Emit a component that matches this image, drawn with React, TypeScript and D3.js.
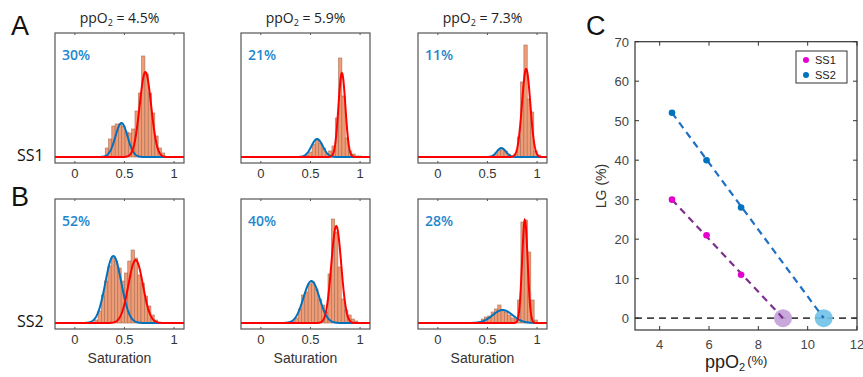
import React, { useEffect, useRef } from 'react';
import * as d3 from 'd3';

// histogram panels (rows: SS1, SS2; columns: ppO2 levels)
const ppO2Titles = ['4.5%', '5.9%', '7.3%'];
const rowLabels = ['SS1', 'SS2'];
const ss1Pct = ['30%', '21%', '11%'];
const ss2Pct = ['52%', '40%', '28%'];
const satTicks = [0, 0.5, 1];

const BIN = 1 / 30;
// first bin edge + bar heights for each histogram
const ss1Start = [0.306, 0.45, 0.567];
const ss1Counts = [
  [9, 18, 31, 33, 33, 31, 25, 24, 28, 46, 64, 101, 83, 64, 44, 21, 9, 4],
  [2, 5, 13, 17, 14, 9, 3, 6, 11, 39, 99, 61, 19, 6, 3, 1, 1],
  [3, 7, 8, 6, 3, 1, 3, 20, 75, 112, 58, 45, 6, 2],
];
const ss2Start = [0.2, 0.31, 0.437];
const ss2Counts = [
  [3, 12, 28, 42, 57, 65, 62, 55, 42, 50, 62, 73, 65, 48, 40, 27, 17, 8, 3],
  [2, 5, 14, 28, 31, 39, 41, 34, 24, 18, 11, 49, 104, 91, 56, 24, 13, 8, 4, 2],
  [4, 6, 7, 11, 14, 18, 13, 11, 8, 5, 4, 23, 101, 103, 71, 23, 3],
];
// gaussian fits: [mean, sd, peak]
const ss1Blue = [[0.47, 0.061, 34], [0.567, 0.057, 18], [0.64, 0.045, 9]];
const ss1Red = [[0.711, 0.058, 85], [0.817, 0.035, 84], [0.89, 0.042, 88]];
const ss2Blue = [[0.388, 0.08, 67], [0.51, 0.08, 42], [0.653, 0.1, 13]];
const ss2Red = [[0.613, 0.073, 63], [0.76, 0.05, 97], [0.877, 0.028, 103]];

// panel C
const ppO2 = [4.5, 5.9, 7.3];
const ss1LG = [30, 21, 11];
const ss2LG = [52, 40, 28];
const ss1Zero = 9.0;
const ss2Zero = 10.65;
const cXTicks = [4, 6, 8, 10, 12];
const cYTicks = [0, 10, 20, 30, 40, 50, 60, 70];

const App = () => {
  const ref = useRef<SVGSVGElement>(null);

  useEffect(() => {
    const svg = d3.select(ref.current);
    svg.selectAll('*').remove();

    const plotW = 129;
    const plotH = 130;
    const lefts = [55, 241, 418];
    const tops = [33, 199];
    const x = d3.scaleLinear().domain([-0.2, 1.1]).range([0, plotW]);
    const y = d3.scaleLinear().domain([-6, 124]).range([plotH, 0]);
    const gauss = (p: number[]) =>
      d3.range(-0.2, 1.1001, 0.004).map(v => [v, p[2] * Math.exp(-((v - p[0]) ** 2) / (2 * p[1] * p[1]))]);
    const line = d3.line<number[]>().x(d => x(d[0])).y(d => y(d[1]));

    const defs = svg.append('defs');
    defs.append('clipPath').attr('id', 'hclip')
      .append('rect').attr('width', plotW).attr('height', plotH);

    const rows = [
      { start: ss1Start, counts: ss1Counts, blue: ss1Blue, red: ss1Red, pct: ss1Pct },
      { start: ss2Start, counts: ss2Counts, blue: ss2Blue, red: ss2Red, pct: ss2Pct },
    ];

    rows.forEach((row, r) => {
      ppO2Titles.forEach((_, c) => {
        const g = svg.append('g').attr('transform', `translate(${lefts[c]},${tops[r]})`);
        const inner = g.append('g').attr('clip-path', 'url(#hclip)');

        inner.selectAll('rect.bar')
          .data(row.counts[c])
          .enter().append('rect')
          .attr('class', 'bar')
          .attr('x', (d, i) => x(row.start[c] + i * BIN))
          .attr('width', x(BIN) - x(0))
          .attr('y', d => y(d))
          .attr('height', d => y(0) - y(d))
          .attr('fill', '#EF9B74')
          .attr('stroke', '#A8705A')
          .attr('stroke-width', 0.6);

        inner.append('path').datum(gauss(row.blue[c]))
          .attr('d', line).attr('fill', 'none')
          .attr('stroke', '#0072BD').attr('stroke-width', 2);
        inner.append('path').datum(gauss(row.red[c]))
          .attr('d', line).attr('fill', 'none')
          .attr('stroke', '#FF0000').attr('stroke-width', 2);

        // box and ticks
        g.append('rect').attr('width', plotW).attr('height', plotH)
          .attr('fill', 'none').attr('stroke', '#555').attr('stroke-width', 1.2);
        satTicks.forEach(t => {
          g.append('line').attr('x1', x(t)).attr('x2', x(t)).attr('y1', plotH).attr('y2', plotH - 2)
            .attr('stroke', '#555');
          g.append('line').attr('x1', x(t)).attr('x2', x(t)).attr('y1', 0).attr('y2', 2)
            .attr('stroke', '#555');
          g.append('text').attr('x', x(t)).attr('y', plotH + 15)
            .attr('text-anchor', 'middle').attr('font-family', 'Liberation Sans, Arial')
            .attr('font-size', 13).attr('fill', '#333').text(t);
        });

        g.append('text').attr('x', 7).attr('y', 27)
          .attr('font-family', 'Open Sans').attr('font-weight', 600)
          .attr('font-size', 14).attr('fill', '#1F86CC').text(row.pct[c]);

        if (r === 0) {
          const tt = g.append('text').attr('x', plotW / 2).attr('y', -10)
            .attr('text-anchor', 'middle').attr('font-family', 'Open Sans')
            .attr('font-size', 14).attr('fill', '#222');
          tt.append('tspan').text('ppO');
          tt.append('tspan').attr('font-size', 9).attr('dy', 3).text('2');
          tt.append('tspan').attr('dy', -3).text(` = ${ppO2Titles[c]}`);
        } else {
          g.append('text').attr('x', plotW / 2).attr('y', plotH + 34)
            .attr('text-anchor', 'middle').attr('font-family', 'Liberation Sans, Arial')
            .attr('font-size', 14).attr('fill', '#333').text('Saturation');
        }
      });
      svg.append('text').attr('x', 17).attr('y', tops[r] + 128)
        .attr('font-family', 'Open Sans').attr('font-size', 16).attr('fill', '#111')
        .text(rowLabels[r]);
    });

    // panel letters
    [['A', 11, 35], ['B', 11, 206], ['C', 586, 35]].forEach(([t, px, py]) => {
      svg.append('text').attr('x', px).attr('y', py)
        .attr('font-family', 'Liberation Sans, Arial').attr('font-size', 27).attr('fill', '#111')
        .text(t as string);
    });

    // panel C
    const cx = d3.scaleLinear().domain([3, 12]).range([635, 857]);
    const cy = d3.scaleLinear().domain([-3, 70]).range([330, 41.7]);
    const cg = svg.append('g');

    cg.append('line').attr('x1', cx(3)).attr('x2', cx(12)).attr('y1', cy(0)).attr('y2', cy(0))
      .attr('stroke', '#444').attr('stroke-width', 1.6).attr('stroke-dasharray', '7,5');

    cg.append('circle').attr('cx', cx(ss1Zero)).attr('cy', cy(0)).attr('r', 9)
      .attr('fill', '#C3A0D8').attr('opacity', 0.9);
    cg.append('circle').attr('cx', cx(ss2Zero)).attr('cy', cy(0)).attr('r', 9)
      .attr('fill', '#6EC1E8').attr('opacity', 0.9);

    cg.append('line').attr('x1', cx(ppO2[0])).attr('y1', cy(ss1LG[0]))
      .attr('x2', cx(ss1Zero)).attr('y2', cy(0))
      .attr('stroke', '#7E2F8E').attr('stroke-width', 2.2).attr('stroke-dasharray', '7,5');
    cg.append('line').attr('x1', cx(ppO2[0])).attr('y1', cy(ss2LG[0]))
      .attr('x2', cx(ss2Zero)).attr('y2', cy(0))
      .attr('stroke', '#1F6FC5').attr('stroke-width', 2.2).attr('stroke-dasharray', '7,5');

    cg.selectAll('circle.s1').data(ss1LG).enter().append('circle')
      .attr('cx', (d, i) => cx(ppO2[i])).attr('cy', d => cy(d)).attr('r', 3.3).attr('fill', '#E600CC');
    cg.selectAll('circle.s2').data(ss2LG).enter().append('circle')
      .attr('cx', (d, i) => cx(ppO2[i])).attr('cy', d => cy(d)).attr('r', 3.3).attr('fill', '#0072BD');

    cg.append('rect').attr('x', cx(3)).attr('y', cy(70))
      .attr('width', cx(12) - cx(3)).attr('height', cy(-3) - cy(70))
      .attr('fill', 'none').attr('stroke', '#333').attr('stroke-width', 1.2);

    cXTicks.forEach(t => {
      cg.append('line').attr('x1', cx(t)).attr('x2', cx(t)).attr('y1', cy(-3)).attr('y2', cy(-3) - 4).attr('stroke', '#333');
      cg.append('line').attr('x1', cx(t)).attr('x2', cx(t)).attr('y1', cy(70)).attr('y2', cy(70) + 4).attr('stroke', '#333');
      cg.append('text').attr('x', cx(t)).attr('y', cy(-3) + 19).attr('text-anchor', 'middle')
        .attr('font-family', 'Liberation Sans, Arial').attr('font-size', 13).attr('fill', '#444').text(t);
    });
    cYTicks.forEach(t => {
      cg.append('line').attr('x1', cx(3)).attr('x2', cx(3) + 4).attr('y1', cy(t)).attr('y2', cy(t)).attr('stroke', '#333');
      cg.append('line').attr('x1', cx(12)).attr('x2', cx(12) - 4).attr('y1', cy(t)).attr('y2', cy(t)).attr('stroke', '#333');
      cg.append('text').attr('x', cx(3) - 6).attr('y', cy(t) + 5).attr('text-anchor', 'end')
        .attr('font-family', 'Liberation Sans, Arial').attr('font-size', 13).attr('fill', '#444').text(t);
    });

    const xl = cg.append('text').attr('x', 705).attr('y', 368)
      .attr('font-family', 'Liberation Sans, Arial').attr('fill', '#222');
    xl.append('tspan').attr('font-size', 18).text('ppO');
    xl.append('tspan').attr('font-size', 11).attr('dy', 3).text('2');
    xl.append('tspan').attr('font-size', 13).attr('dy', -6).attr('dx', 2).text('(%)');

    cg.append('text').attr('transform', `translate(606,186) rotate(-90)`)
      .attr('text-anchor', 'middle').attr('font-family', 'Liberation Sans, Arial')
      .attr('font-size', 14).attr('fill', '#333').text('LG (%)');

    // legend
    const lg = cg.append('g').attr('transform', 'translate(796,51)');
    lg.append('rect').attr('width', 51).attr('height', 32).attr('fill', '#fff')
      .attr('stroke', '#333').attr('stroke-width', 1);
    [['SS1', '#E600CC'], ['SS2', '#0072BD']].forEach(([label, col], i) => {
      lg.append('circle').attr('cx', 10).attr('cy', 9 + i * 15).attr('r', 3).attr('fill', col);
      lg.append('text').attr('x', 19).attr('y', 13 + i * 15)
        .attr('font-family', 'Liberation Sans, Arial').attr('font-size', 11).attr('fill', '#222').text(label);
    });
  }, []);

  return (
    <svg ref={ref} width={863} height={377}
      style={{ position: 'absolute', left: 0, top: 0, background: '#fff' }} />
  );
};

export default App;
